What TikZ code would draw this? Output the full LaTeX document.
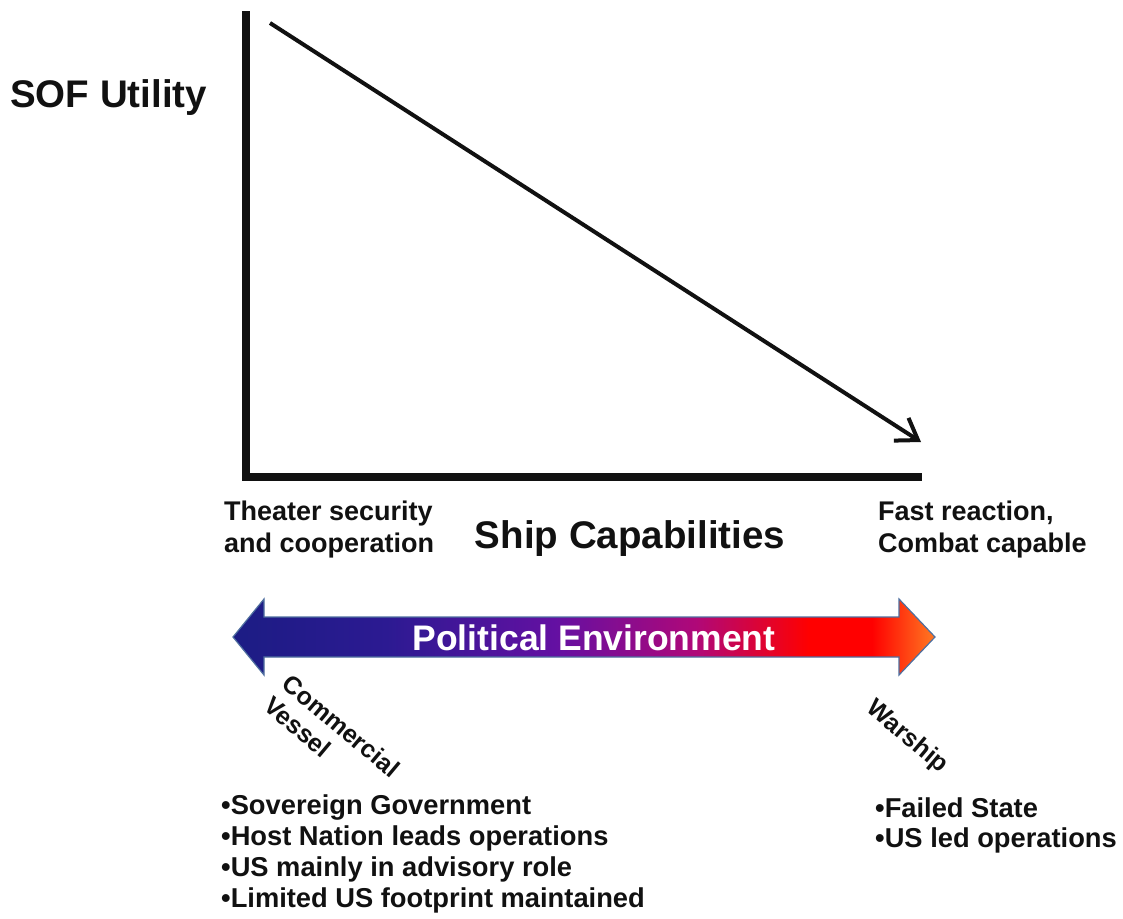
\documentclass[tikz,border=0pt]{standalone}
\usepackage{fontspec}
\setmainfont{Liberation Sans}
\usetikzlibrary{arrows.meta}
\definecolor{ink}{HTML}{111111}
\definecolor{pnavy}{HTML}{1C1C84}
\definecolor{pnavyb}{HTML}{2C1A92}
\definecolor{ppurple}{HTML}{6410A2}
\definecolor{pmag}{HTML}{B00878}
\definecolor{pred}{HTML}{FF0000}
\definecolor{porange}{HTML}{FF7A22}
\definecolor{poutline}{HTML}{4F6F9F}
\pgfdeclarehorizontalshading{polenv}{100bp}{color(0bp)=(pnavy); color(25bp)=(pnavy); color(36bp)=(pnavyb); color(48bp)=(ppurple); color(58bp)=(pmag); color(66bp)=(pred); color(70.5bp)=(pred); color(75bp)=(porange); color(100bp)=(porange)}
\tikzset{
  lbl/.style={text=ink, font=\bfseries, inner sep=0pt},
  axisline/.style={line width=8pt, ink, line join=miter},
  trend/.style={line width=4pt, ink, -{Straight Barb[length=20pt,width=27pt,line width=4pt]}},
  bigarrow/.style={shading=polenv, draw=poutline, line width=1.2pt},
}
\begin{document}
\begin{tikzpicture}[x=1pt,y=-1pt]
\useasboundingbox (0,0) rectangle (1123,918);
% axes
\coordinate (top) at (246,11);
\coordinate (origin) at (246,477);
\coordinate (xend) at (922,477);
\draw[axisline] (top) -- (origin) -- (xend);
% trend line
\coordinate (tstart) at (270,23);
\coordinate (tend) at (921,442);
\draw[trend] (tstart) -- (tend);
% labels
\node[lbl, anchor=base west, font=\bfseries\fontsize{38.5}{42}\selectfont] (sof) at (10,107) {SOF Utility};
\node[lbl, anchor=base, font=\bfseries\fontsize{38.5}{42}\selectfont] (ship) at (630,548) {Ship Capabilities};
\node[lbl, anchor=north west, align=left, font=\bfseries\fontsize{27}{32}\selectfont] (theater) at (224,500.5) {Theater security\\and cooperation};
\node[lbl, anchor=north west, align=left, font=\bfseries\fontsize{27}{32}\selectfont] (fast) at (878,500.5) {Fast reaction,\\Combat capable};
% political environment arrow
\path[bigarrow] (233,637) -- (264,599) -- (264,617) -- (899,617) -- (899,599) -- (935,637) -- (899,675) -- (899,657) -- (264,657) -- (264,675) -- cycle;
\node[lbl, text=white, anchor=base, font=\bfseries\fontsize{35.5}{38}\selectfont] (pol) at (594,650) {Political Environment};
% rotated labels
\node[lbl, rotate=-40, align=left, font=\bfseries\fontsize{25}{29}\selectfont] (comm) at (332,737) {Commercial\\Vessel};
\node[lbl, rotate=-40, font=\bfseries\fontsize{25}{29}\selectfont] (war) at (907,737) {Warship};
% bullet lists
\node[lbl, anchor=north west, align=left, font=\bfseries\fontsize{27.3}{31}\selectfont] (leftlist) at (221,795) {•Sovereign Government\\•Host Nation leads operations\\•US mainly in advisory role\\•Limited US footprint maintained};
\node[lbl, anchor=north west, align=left, font=\bfseries\fontsize{27.3}{30}\selectfont] (rightlist) at (875,798) {•Failed State\\•US led operations};
\end{tikzpicture}
\end{document}
